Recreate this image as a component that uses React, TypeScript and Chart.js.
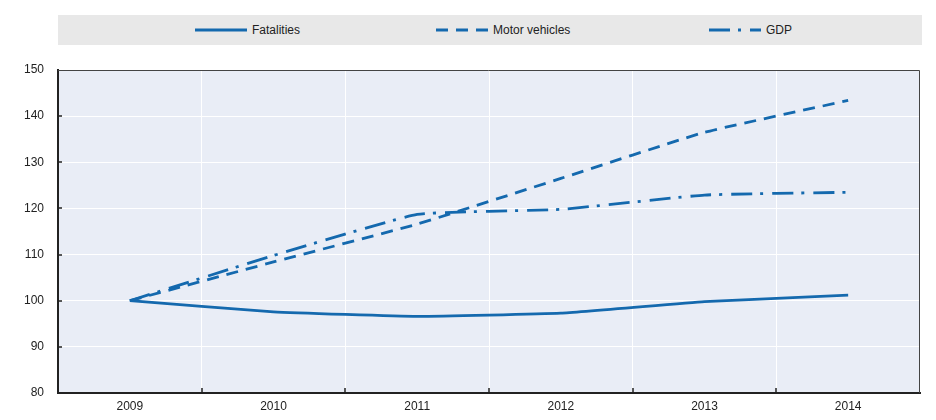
import React, { useEffect, useRef } from "react";
import { Chart, registerables } from "chart.js";

Chart.register(...registerables);

const categories = ["2009", "2010", "2011", "2012", "2013", "2014"];
const fatalities = [100, 97.6, 96.6, 97.3, 99.8, 101.2];
const motorVehicles = [100, 108.4, 116.6, 126.5, 136.5, 143.4];
const gdp = [100, 109.8, 118.7, 119.8, 122.9, 123.5];
const yMin = 80;
const yMax = 150;
const yStep = 10;

const BLUE = "#1469ae";
const FONT = "'Liberation Sans', Arial, sans-serif";

// background, frame and inward tick marks
const framePlugin = {
  id: "frame",
  beforeDraw(chart: any) {
    const { ctx, chartArea: a } = chart;
    ctx.save();
    ctx.fillStyle = "#e9edf6";
    ctx.fillRect(a.left, a.top, a.right - a.left, a.bottom - a.top);
    ctx.restore();
  },
  afterDatasetsDraw(chart: any) {
    const { ctx, chartArea: a, scales } = chart;
    ctx.save();
    ctx.strokeStyle = "#444";
    ctx.lineWidth = 1;
    ctx.beginPath();
    ctx.moveTo(a.left, a.top + 0.5);
    ctx.lineTo(a.right - 0.5, a.top + 0.5);
    ctx.lineTo(a.right - 0.5, a.bottom);
    ctx.stroke();

    ctx.strokeStyle = "#222";
    ctx.lineWidth = 1.5;
    const x = scales.x;
    ctx.beginPath();
    for (let i = 0; i < categories.length - 1; i++) {
      const px = Math.round((x.getPixelForValue(i) + x.getPixelForValue(i + 1)) / 2);
      ctx.moveTo(px, a.bottom);
      ctx.lineTo(px, a.bottom - 5);
    }
    const y = scales.y;
    for (let v = yMin + yStep; v < yMax; v += yStep) {
      const py = Math.round(y.getPixelForValue(v));
      ctx.moveTo(a.left, py);
      ctx.lineTo(a.left + 4, py);
    }
    ctx.stroke();
    ctx.restore();
  },
};

function LegendItem({ left, label, dash }: { left: number; label: string; dash?: string }) {
  return (
    <div style={{ position: "absolute", left, top: 0, height: 30, display: "flex", alignItems: "center" }}>
      <svg width={52} height={6} style={{ marginRight: 5 }}>
        <line x1={0} y1={3} x2={52} y2={3} stroke={BLUE} strokeWidth={3} strokeDasharray={dash} />
      </svg>
      <span style={{ fontFamily: FONT, fontSize: 12, color: "#222" }}>{label}</span>
    </div>
  );
}

export default function App() {
  const canvasRef = useRef<HTMLCanvasElement | null>(null);
  const chartRef = useRef<Chart | null>(null);

  useEffect(() => {
    if (!canvasRef.current) return;
    if (chartRef.current) chartRef.current.destroy();

    const common = {
      borderColor: BLUE,
      backgroundColor: BLUE,
      borderWidth: 2.8,
      pointRadius: 0,
      tension: 0.12,
      fill: false,
      borderCapStyle: "butt" as const,
    };

    chartRef.current = new Chart(canvasRef.current, {
      type: "line",
      data: {
        labels: categories,
        datasets: [
          { ...common, label: "Fatalities", data: fatalities },
          { ...common, label: "Motor vehicles", data: motorVehicles, borderDash: [12, 8] },
          { ...common, label: "GDP", data: gdp, borderDash: [21, 8, 3, 9] },
        ],
      },
      options: {
        animation: false,
        responsive: false,
        maintainAspectRatio: false,
        layout: { padding: { top: 70, right: 16, bottom: 0, left: 0 } },
        plugins: { legend: { display: false }, tooltip: { enabled: false } },
        scales: {
          x: {
            offset: true,
            grid: { color: "#ffffff", lineWidth: 1, offset: true, drawTicks: false },
            border: { color: "#222", width: 2 },
            ticks: { color: "#222", font: { family: FONT, size: 12 }, padding: 6, maxRotation: 0 },
            afterFit: (s: any) => {
              s.height = 27;
            },
          },
          y: {
            min: yMin,
            max: yMax,
            grid: { color: "#ffffff", lineWidth: 1, drawTicks: false },
            border: { color: "#222", width: 2 },
            ticks: { stepSize: yStep, color: "#222", font: { family: FONT, size: 12 }, padding: 14 },
            afterFit: (s: any) => {
              s.width = 58;
            },
          },
        },
      },
      plugins: [framePlugin],
    });

    return () => {
      if (chartRef.current) {
        chartRef.current.destroy();
        chartRef.current = null;
      }
    };
  }, []);

  return (
    <div style={{ position: "fixed", left: 0, top: 0, width: 936, height: 420, background: "#fff" }}>
      <div
        style={{ position: "absolute", left: 58, top: 15, width: 864, height: 30, background: "#e8e8e8" }}
      >
        <LegendItem left={137} label="Fatalities" />
        <LegendItem left={378} label="Motor vehicles" dash="12 8" />
        <LegendItem left={651} label="GDP" dash="21 8 3 9" />
      </div>
      <canvas
        ref={canvasRef}
        width={936}
        height={420}
        style={{ position: "absolute", left: 0, top: 0, width: 936, height: 420 }}
      />
    </div>
  );
}
